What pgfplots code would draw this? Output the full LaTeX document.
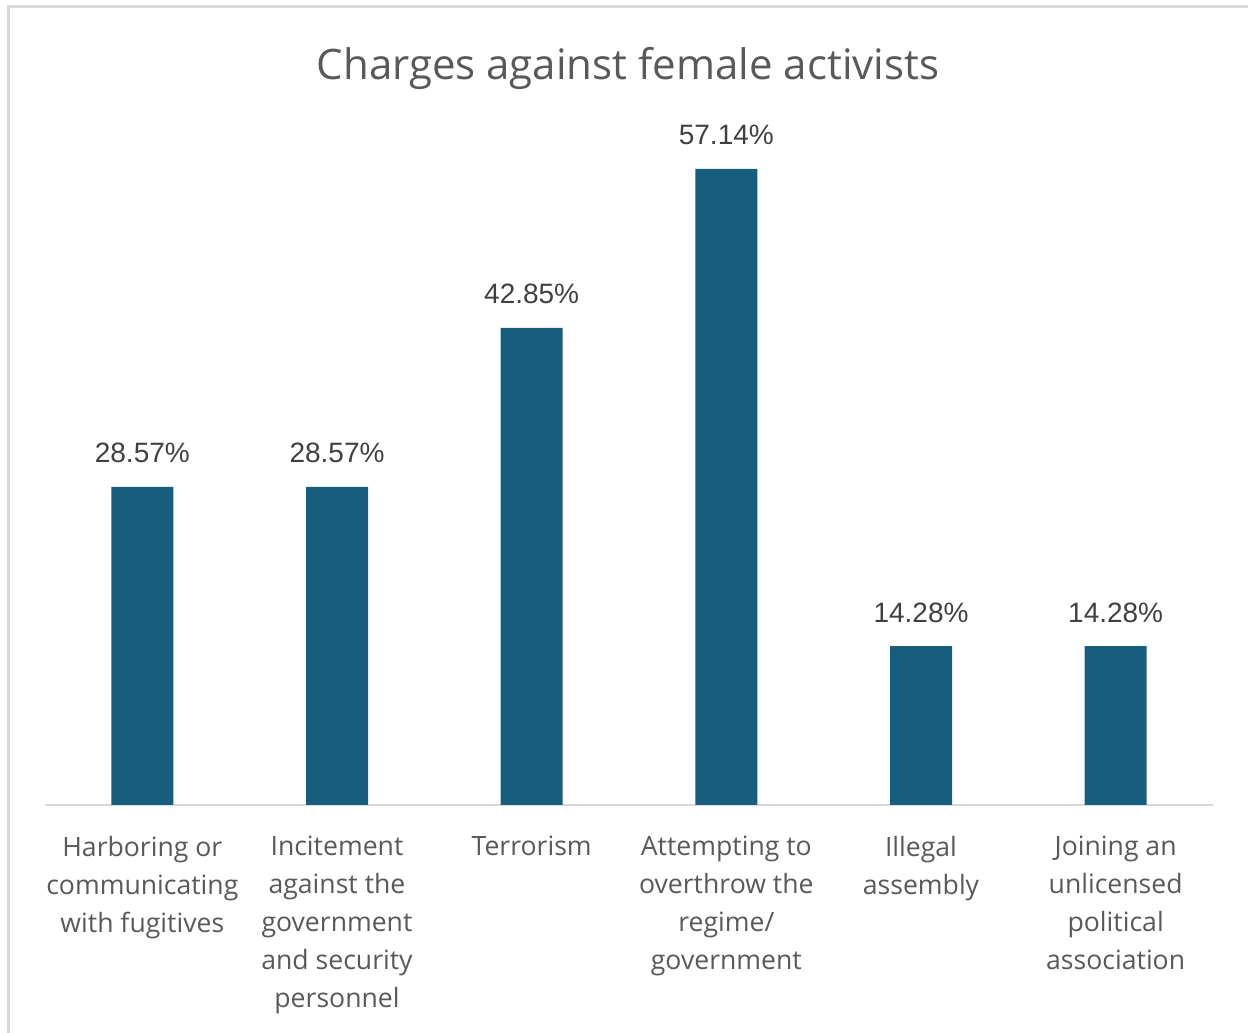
\documentclass[border=0pt]{standalone}
\usepackage{fontspec}
\setmainfont{Open Sans}
\newfontfamily\arialf{Liberation Sans}
\usepackage{pgfplots}
\pgfplotsset{compat=1.18}
\definecolor{barc}{HTML}{175E7E}
\definecolor{txt}{HTML}{595959}
\definecolor{lbl}{HTML}{404040}
\definecolor{brd}{HTML}{D9D9D9}
\begin{document}
\begin{tikzpicture}[x=0.5pt,y=0.5pt]
\useasboundingbox (0,0) rectangle (1248,1033);
\draw[brd, line width=1.5pt] (8,0) -- (8,1026) -- (1248,1026);
\node[txt, font=\fontsize{21}{25}\selectfont] at (628,965) {Charges against female activists};
\begin{axis}[at={(22.5pt,114pt)}, anchor=south west, scale only axis,
  width=584pt, height=334pt,
  ymin=0, ymax=60, xmin=-0.5, xmax=5.5,
  axis y line=none, axis x line*=bottom,
  axis line style={-, brd, line width=1.2pt},
  ytick=\empty,
  xtick={0,1,2,3,4,5},
  major tick length=0pt,
  /pgf/number format/assume math mode=true,
  xticklabels={{Harboring or\\communicating\\with fugitives},
    {Incitement\\against the\\government\\and security\\personnel},
    {Terrorism},
    {Attempting to\\overthrow the\\regime/\\government},
    {Illegal\\assembly},
    {Joining an\\unlicensed\\political\\association}},
  xticklabel style={align=center, font=\fontsize{13.3}{19}\selectfont, text=txt, anchor=north, inner sep=0pt, yshift=-15.5pt},
  nodes near coords={\pgfmathprintnumber[fixed, precision=2, fixed zerofill]{\pgfplotspointmeta}\%},
  every node near coord/.append style={font=\arialf\fontsize{14}{16}\selectfont, text=lbl, anchor=base, inner sep=0pt, yshift=12pt},
  clip=false,
]
\addplot[ybar, bar width=31pt, bar shift=0pt, fill=barc, draw=none] coordinates {
(0,28.57) (1,28.57) (2,42.85) (3,57.14) (4,14.28) (5,14.28)};
\end{axis}
\end{tikzpicture}
\end{document}
